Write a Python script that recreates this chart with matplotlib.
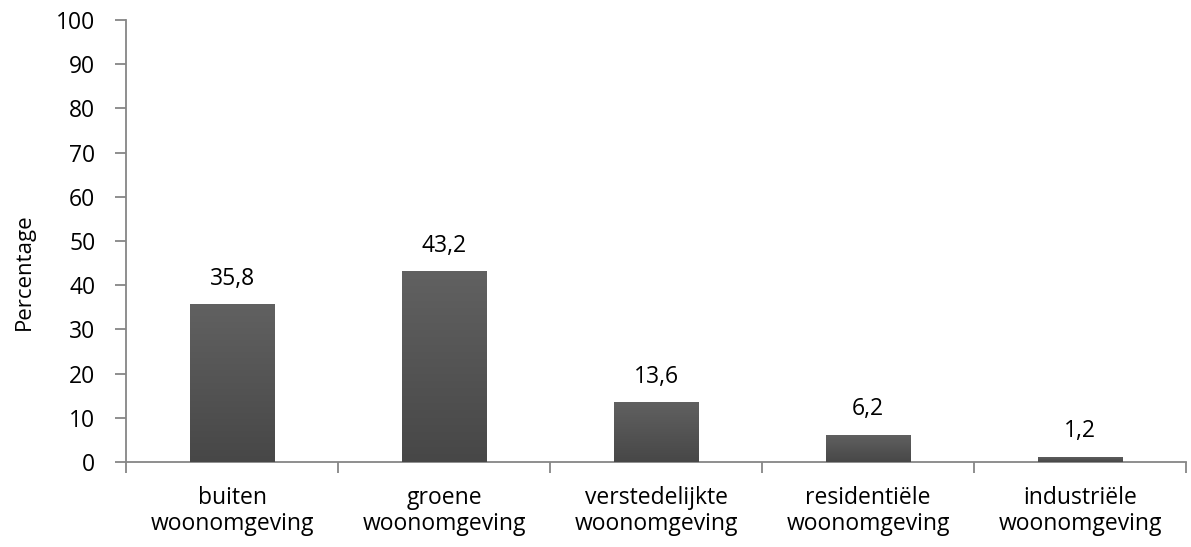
import numpy as np
import matplotlib
matplotlib.use("Agg")
import matplotlib.pyplot as plt
from matplotlib.colors import LinearSegmentedColormap

categories = ["buiten\nwoonomgeving", "groene\nwoonomgeving", "verstedelijkte\nwoonomgeving",
              "residentiële\nwoonomgeving", "industriële\nwoonomgeving"]
values = [35.8, 43.2, 13.6, 6.2, 1.2]
labels = ["35,8", "43,2", "13,6", "6,2", "1,2"]
yticks = [0, 10, 20, 30, 40, 50, 60, 70, 80, 90, 100]

plt.rcParams["font.family"] = ["Open Sans", "DejaVu Sans"]
FS = 16.5

fig = plt.figure(figsize=(11.91, 5.47), dpi=100)
ax = fig.add_axes([0.1058, 0.1554, 0.89, 0.808])

x = np.arange(len(values))
width = 0.4
bars = ax.bar(x, values, width=width, color="#555555", zorder=2)

# vertical gradient fill for each bar
grad = np.linspace(0, 1, 256).reshape(-1, 1)
cmap = LinearSegmentedColormap.from_list("bar", ["#474747", "#616161"])
for b in bars:
    x0, y0 = b.get_x(), b.get_y()
    w, h = b.get_width(), b.get_height()
    im = ax.imshow(grad, extent=(x0, x0 + w, y0, y0 + h), origin="lower",
                   cmap=cmap, aspect="auto", zorder=3)
    im.set_clip_path(b)
for xi, v, lab in zip(x, values, labels):
    ax.text(xi, v + 3.0, lab, ha="center", va="bottom", fontsize=FS, color="#000000")

ax.set_xlim(-0.5, len(values) - 0.5)
ax.set_ylim(0, 100)
ax.set_yticks(yticks)
ax.set_yticklabels([str(t) for t in yticks], fontsize=FS)
ax.set_xticks(np.arange(-0.5, len(values), 1.0))
ax.set_xticklabels([])
ax.set_xticks(x, minor=True)
ax.set_xticklabels(categories, minor=True, fontsize=FS, linespacing=1.12)
ax.tick_params(axis="x", which="minor", length=0, pad=17)
ax.tick_params(axis="x", which="major", length=8, width=1.3, color="#868686", direction="out")
ax.tick_params(axis="y", length=8, width=1.3, color="#868686", direction="out", pad=14)

for s in ["top", "right"]:
    ax.spines[s].set_visible(False)
for s in ["left", "bottom"]:
    ax.spines[s].set_color("#868686")
    ax.spines[s].set_linewidth(1.3)

ax.set_ylabel("Percentage", fontsize=16)
ax.yaxis.set_label_coords(-0.086, 0.43)

fig.savefig("out.png", dpi=100)
